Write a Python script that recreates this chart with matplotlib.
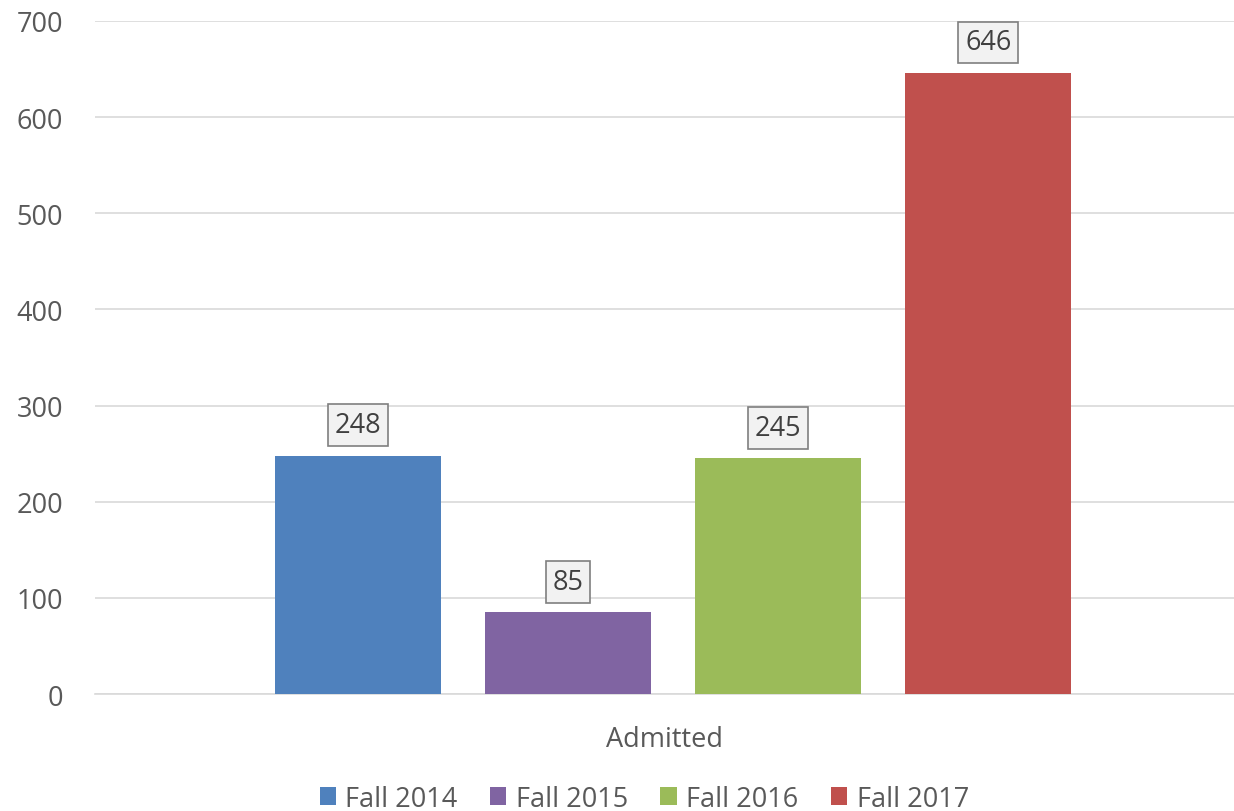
import matplotlib.pyplot as plt
import numpy as np

plt.rcParams['font.family'] = ['Open Sans', 'DejaVu Sans']

# data
series = ['Fall 2014', 'Fall 2015', 'Fall 2016', 'Fall 2017']
values = [248, 85, 245, 646]
colors = ['#4f81bd', '#8064a2', '#9bbb59', '#c0504d']
category = 'Admitted'
yticks = [0, 100, 200, 300, 400, 500, 600, 700]

fig = plt.figure(figsize=(12.34, 8.12), dpi=100)
ax = fig.add_axes([0.077, 0.144, 0.923, 0.829])

offsets = np.arange(len(values)) - 1.5 + 0.04
for off, v, c, s in zip(offsets, values, colors, series):
    ax.bar(off, v, width=0.79, color=c, label=s, zorder=3)
    ax.annotate(str(v), xy=(off, v), xytext=(0, 22), textcoords='offset points',
                ha='center', va='center', fontsize=19.5, color='#404040',
                bbox=dict(boxstyle='square,pad=0.25', fc='#f2f2f2', ec='#7f7f7f', lw=1.2),
                zorder=4)

ax.set_xlim(-2.71, 2.71)
ax.set_ylim(0, 700)
ax.set_yticks(yticks)
ax.set_xticks([0])
ax.set_xticklabels([category])
ax.tick_params(axis='both', length=0, labelsize=19.5, labelcolor='#595959')
ax.tick_params(axis='y', pad=23)
ax.tick_params(axis='x', pad=22)
ax.grid(axis='y', color='#d9d9d9', lw=1.2, zorder=0)
for sp in ['top', 'right', 'left']:
    ax.spines[sp].set_visible(False)
ax.spines['bottom'].set_color('#d9d9d9')
ax.spines['bottom'].set_linewidth(1.2)

fig.legend(loc='lower center', bbox_to_anchor=(0.522, -0.032), ncol=4, frameon=False,
           fontsize=19.5, labelcolor='#595959', handlelength=0.6, handleheight=0.6,
           handletextpad=0.35, columnspacing=1.2)

fig.savefig('out.png', dpi=100)
